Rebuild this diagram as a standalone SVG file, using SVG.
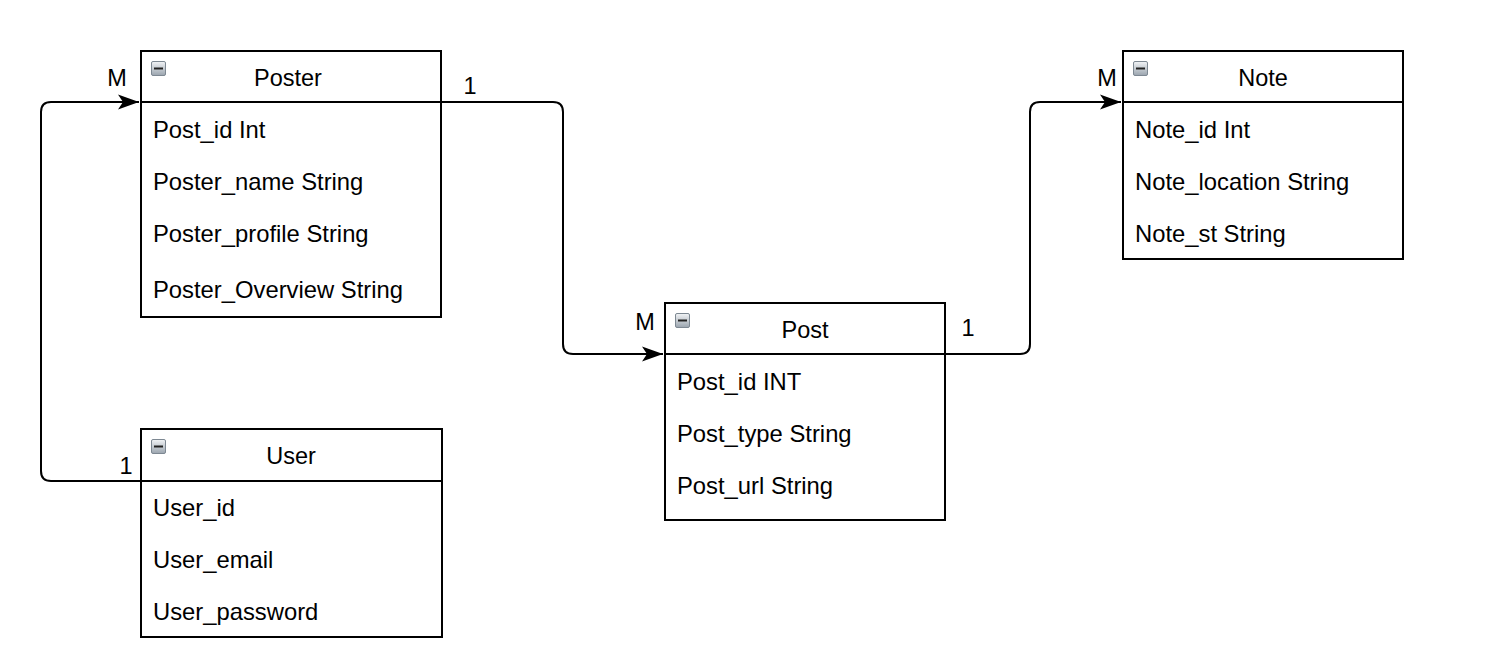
<svg xmlns="http://www.w3.org/2000/svg" width="1492" height="666" viewBox="0 0 1492 666">
<style>
.box{fill:#fff;stroke:#000;stroke-width:2}
.sep{stroke:#000;stroke-width:2}
.t{font-family:"Liberation Sans",Arial,sans-serif;font-size:23.5px;fill:#000}
.r{font-size:23.8px}
.h{text-anchor:middle}
.c{fill:none;stroke:#000;stroke-width:2}
</style>
<defs>
<marker id="arr" markerWidth="22" markerHeight="18" viewBox="0 0 22 18" refX="21" refY="9" orient="auto" markerUnits="userSpaceOnUse">
<path d="M0,1.5 L21,9 L0,16.5 L5,9 Z" fill="#000"/>
</marker>
<linearGradient id="ig" x1="0" y1="0" x2="0" y2="1">
<stop offset="0" stop-color="#f2f4f6"/><stop offset="1" stop-color="#9aa4ae"/>
</linearGradient>
<g id="icon">
<rect x="0.5" y="0.5" width="14" height="14" rx="1.5" fill="url(#ig)" stroke="#7d8892"/>
<rect x="3" y="6.5" width="9" height="2" fill="#222"/>
</g>
</defs>
<rect width="1492" height="666" fill="#fff"/>
<g id="connectors">
<path class="c" d="M141,481 L51,481 Q41,481 41,471 L41,112 Q41,102 51,102 L139,102" marker-end="url(#arr)"/>
<path class="c" d="M441,102 L553,102 Q563,102 563,112 L563,344 Q563,354 573,354 L663,354" marker-end="url(#arr)"/>
<path class="c" d="M945,354 L1020,354 Q1030,354 1030,344 L1030,112 Q1030,102 1040,102 L1121,102" marker-end="url(#arr)"/>
<text class="t" x="126" y="474" text-anchor="middle">1</text>
<text class="t" x="117" y="86" text-anchor="middle">M</text>
<text class="t" x="470" y="94" text-anchor="middle">1</text>
<text class="t" x="645" y="330" text-anchor="middle">M</text>
<text class="t" x="968" y="336" text-anchor="middle">1</text>
<text class="t" x="1107" y="86" text-anchor="middle">M</text>
</g>
<g id="poster">
<rect class="box" x="141" y="51" width="300" height="266"/>
<line class="sep" x1="141" y1="102" x2="441" y2="102"/>
<use href="#icon" x="151" y="61"/>
<text class="t h" x="288" y="86">Poster</text>
<text class="t r" x="153" y="138">Post_id Int</text>
<text class="t r" x="153" y="190">Poster_name String</text>
<text class="t r" x="153" y="242">Poster_profile String</text>
<text class="t r" x="153" y="298">Poster_Overview String</text>
</g>
<g id="user">
<rect class="box" x="141" y="429" width="301" height="208"/>
<line class="sep" x1="141" y1="481" x2="442" y2="481"/>
<use href="#icon" x="151" y="439"/>
<text class="t h" x="291" y="464">User</text>
<text class="t r" x="153" y="516">User_id</text>
<text class="t r" x="153" y="568">User_email</text>
<text class="t r" x="153" y="620">User_password</text>
</g>
<g id="post">
<rect class="box" x="665" y="303" width="280" height="217"/>
<line class="sep" x1="665" y1="354" x2="945" y2="354"/>
<use href="#icon" x="675" y="313"/>
<text class="t h" x="805" y="338">Post</text>
<text class="t r" x="677" y="390">Post_id INT</text>
<text class="t r" x="677" y="442">Post_type String</text>
<text class="t r" x="677" y="494">Post_url String</text>
</g>
<g id="note">
<rect class="box" x="1123" y="51" width="280" height="208"/>
<line class="sep" x1="1123" y1="102" x2="1403" y2="102"/>
<use href="#icon" x="1133" y="61"/>
<text class="t h" x="1263" y="86">Note</text>
<text class="t r" x="1135" y="138">Note_id Int</text>
<text class="t r" x="1135" y="190">Note_location String</text>
<text class="t r" x="1135" y="242">Note_st String</text>
</g>
</svg>
